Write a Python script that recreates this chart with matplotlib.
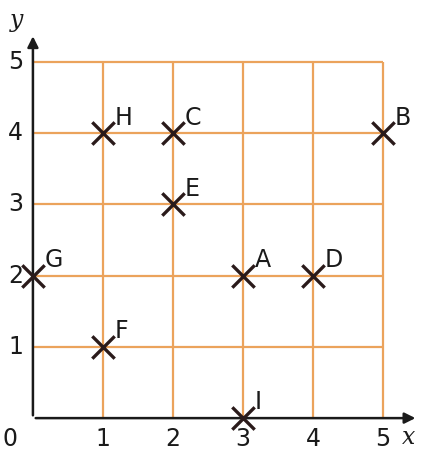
import numpy as np
import matplotlib.pyplot as plt

# points on the grid
names = ["A", "B", "C", "D", "E", "F", "G", "H", "I"]
xs = [3, 5, 2, 4, 2, 1, 0, 1, 3]
ys = [2, 4, 4, 2, 3, 1, 2, 4, 0]

xticks = [0, 1, 2, 3, 4, 5]
yticks = [1, 2, 3, 4, 5]
xtick_labels = ["0", "1", "2", "3", "4", "5"]
ytick_labels = ["1", "2", "3", "4", "5"]

fig = plt.figure(figsize=(4.28, 4.58), dpi=100)
ax = fig.add_axes([0, 0, 1, 1])
ax.set_xlim(-0.47, 5.64)
ax.set_ylim(-0.56, 5.87)
ax.axis("off")

grid_col = "#eba35c"
ax.hlines(yticks, 0, 5, color=grid_col, lw=1.6, zorder=1)
ax.vlines(xticks[1:], 0, 5, color=grid_col, lw=1.6, zorder=1)

# axes with arrows
ax.annotate("", xy=(5.5, 0), xytext=(0, 0),
            arrowprops=dict(arrowstyle="-|>", color="#1a1a1a", lw=1.8, mutation_scale=16))
ax.annotate("", xy=(0, 5.4), xytext=(0, 0),
            arrowprops=dict(arrowstyle="-|>", color="#1a1a1a", lw=1.8, mutation_scale=16))
ax.text(5.36, -0.27, "x", fontsize=17, family="DejaVu Serif", style="italic",
        ha="center", va="center", color="#1a1a1a")
ax.text(-0.24, 5.58, "y", fontsize=17, family="DejaVu Serif", style="italic",
        ha="center", va="center", color="#1a1a1a")

for t, lab in zip(xticks, xtick_labels):
    ax.text(t - (0.33 if t == 0 else 0), -0.3, lab, fontsize=17, ha="center", va="center", color="#1a1a1a")
for t, lab in zip(yticks, ytick_labels):
    ax.text(-0.25, t, lab, fontsize=17, ha="center", va="center", color="#1a1a1a")

ax.scatter(xs, ys, marker="x", s=260, linewidths=2.4, color="#2a1a1a", zorder=3)
for n, x, y in zip(names, xs, ys):
    ax.text(x + 0.17, y + 0.22, n, fontsize=17, ha="left", va="center", color="#1a1a1a")

fig.savefig("out.png", dpi=100)
